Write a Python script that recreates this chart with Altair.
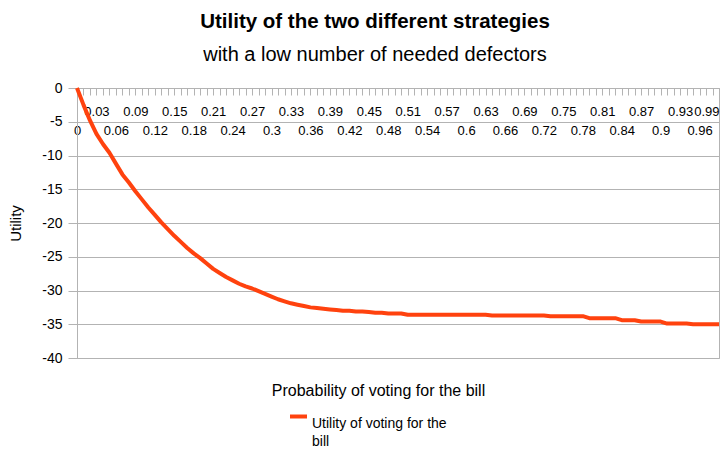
import altair as alt
import pandas as pd

# ---- data ----
probability = [round(i * 0.01, 2) for i in range(100)]
utility = [
    0.0, -2.5, -4.8, -6.8, -8.3, -9.6, -11.2, -12.8, -14.0, -15.3,
    -16.5, -17.7, -18.8, -19.9, -20.9, -21.9, -22.8, -23.7, -24.5, -25.2,
    -26.0, -26.8, -27.4, -28.0, -28.5, -29.0, -29.4, -29.7, -30.1, -30.5,
    -30.9, -31.3, -31.6, -31.9, -32.1, -32.3, -32.5, -32.6, -32.7, -32.8,
    -32.9, -33.0, -33.0, -33.1, -33.1, -33.2, -33.3, -33.3, -33.4, -33.4,
    -33.4, -33.6, -33.6, -33.6, -33.6, -33.6, -33.6, -33.6, -33.6, -33.6,
    -33.6, -33.6, -33.6, -33.6, -33.7, -33.7, -33.7, -33.7, -33.7, -33.7,
    -33.7, -33.7, -33.7, -33.8, -33.8, -33.8, -33.8, -33.8, -33.8, -34.1,
    -34.1, -34.1, -34.1, -34.1, -34.4, -34.4, -34.4, -34.6, -34.6, -34.6,
    -34.6, -34.9, -34.9, -34.9, -34.9, -35.0, -35.0, -35.0, -35.0, -35.0,
]
series_name = "Utility of voting for the bill"
y_ticks = [-40, -35, -30, -25, -20, -15, -10, -5, 0]
x_ticks = probability

df = pd.DataFrame({"p": probability, "u": utility, "series": [series_name] * len(probability)})

FONT = "Liberation Sans"
GRID = "#b3b3b3"
PLOT_W, PLOT_H = 642, 270

label_expr = (
    "round(datum.value*100) % 3 != 0 ? '' : "
    "(round(datum.value*100) % 6 == 0 ? ['', datum.label] : datum.label)"
)

line = alt.Chart(df).mark_line(strokeWidth=4, strokeJoin="round").encode(
    x=alt.X(
        "p:Q",
        scale=alt.Scale(domain=[0, 0.99], nice=False, zero=False),
        axis=alt.Axis(
            orient="bottom",
            offset=-PLOT_H,
            values=x_ticks,
            format="~g",
            labelExpr=label_expr,
            labelBaseline="top",
            labelAlign={"condition": {"test": "datum.value >= 0.985", "value": "right"}, "value": "center"},
            labelLineHeight=19,
            labelPadding=10,
            labelFlush=False,
            labelOverlap=False,
            labelBound=False,
            labelFontSize=13,
            labelFont=FONT,
            labelColor="black",
            tickSize=7,
            tickColor=GRID,
            domain=False,
            grid=False,
            title="Probability of voting for the bill",
            titleX=301,
            titleY=302,
            titleBaseline="middle",
            titleFont=FONT,
            titleFontSize=16,
            titleFontWeight="normal",
            titleColor="black",
        ),
    ),
    y=alt.Y(
        "u:Q",
        scale=alt.Scale(domain=[-40, 0], nice=False, zero=False),
        axis=alt.Axis(
            values=y_ticks,
            format="d",
            labelExpr="replace(datum.label, '\u2212', '-')",
            grid=True,
            gridColor=GRID,
            domainColor=GRID,
            tickColor=GRID,
            tickSize=9,
            labelPadding=6,
            labelFont=FONT,
            labelFontSize=14,
            labelColor="black",
            title="Utility",
            titleX=-62,
            titleY=PLOT_H / 2,
            titleAngle=270,
            titleAlign="center",
            titleBaseline="middle",
            titleFont=FONT,
            titleFontSize=15,
            titleFontWeight="normal",
            titleColor="black",
        ),
    ),
    color=alt.Color(
        "series:N",
        scale=alt.Scale(range=["#ff420e"]),
        legend=alt.Legend(
            orient="none",
            legendX=211,
            legendY=318,
            title=None,
            padding=0,
            symbolType="stroke",
            symbolStrokeWidth=4,
            symbolSize=289,
            labelExpr="['Utility of voting for the', 'bill']",
            labelFont=FONT,
            labelFontSize=14,
            labelBaseline="top",
            labelOffset=3,
            labelLimit=300,
            labelColor="black",
        ),
    ),
)

chart = line.properties(
    width=PLOT_W,
    height=PLOT_H,
    autosize=alt.AutoSizeParams(type="none"),
    padding={"left": 69, "top": 80, "right": 1, "bottom": 95},
    background="white",
    title=alt.TitleParams(
        text="Utility of the two different strategies",
        subtitle="with a low number of needed defectors",
        anchor="middle",
        dx=-23,
        font=FONT,
        fontSize=20.5,
        fontWeight="bold",
        color="black",
        subtitleFont=FONT,
        subtitleFontSize=20,
        subtitleColor="black",
        subtitlePadding=13,
        offset=16,
    ),
).configure(
    style={"guide-label": {"lineHeight": 18}},
).configure_view(stroke=GRID, strokeWidth=1)

chart.save("out.html", embed_options={"renderer": "svg", "actions": False})
